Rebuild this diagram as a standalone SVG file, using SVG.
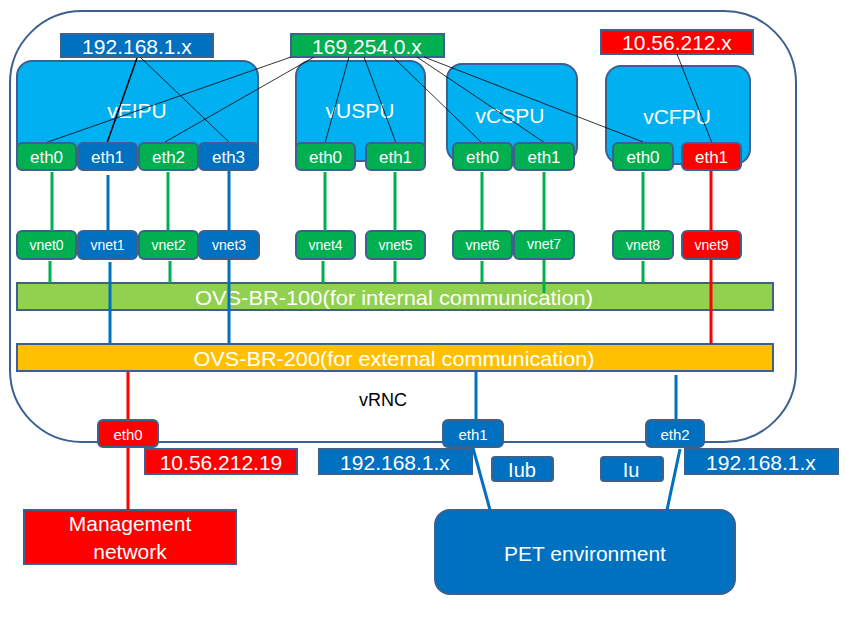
<svg xmlns="http://www.w3.org/2000/svg" width="846" height="621" viewBox="0 0 846 621">
<style>
text{font-family:"Liberation Sans",Arial,sans-serif;fill:#fff;text-anchor:middle;dominant-baseline:central}
.bx{stroke:#3C6090;stroke-width:2}
.vm{fill:#00B0F0}
.g{fill:#00B050}
.b{fill:#0070C0}
.r{fill:#FF0000}
.ip{font-size:21px}
.vmt{font-size:21px}
.eth{font-size:17px}
.vn{font-size:14px}
.be{font-size:15px}
.lg{stroke:#00B050;stroke-width:3}
.lb{stroke:#0070C0;stroke-width:3}
.lr{stroke:#FF0000;stroke-width:3}
.th{stroke:#000;stroke-width:0.8}
</style>
<rect width="846" height="621" fill="#fff"/>
<g id="vRNC">
<rect x="10" y="11" width="786" height="431" rx="72" ry="72" fill="none" stroke="#3C6090" stroke-width="2"/>
<text x="383" y="400" style="fill:#000;font-size:18px">vRNC</text>
</g>
<g id="vEIPU"><rect class="bx vm" x="17" y="61" width="241" height="101" rx="15"/><text class="vmt" x="137" y="110">vEIPU</text></g>
<g id="vUSPU"><rect class="bx vm" x="296" y="61" width="129" height="100" rx="15"/><text class="vmt" x="360" y="110">vUSPU</text></g>
<g id="vCSPU"><rect class="bx vm" x="447" y="64" width="130" height="98" rx="15"/><text class="vmt" x="510" y="115">vCSPU</text></g>
<g id="vCFPU"><rect class="bx vm" x="606" y="66" width="144" height="98" rx="15"/><text class="vmt" x="677" y="116">vCFPU</text></g>
<g id="ip-192-top"><rect class="bx b" x="61" y="34" width="152" height="23"/><text class="ip" x="137" y="46">192.168.1.x</text></g>
<g id="ip-169"><rect class="bx g" x="291" y="34" width="153" height="23"/><text class="ip" x="367" y="46">169.254.0.x</text></g>
<g id="ip-10-top"><rect class="bx r" x="601" y="30" width="152" height="24"/><text class="ip" x="677" y="42">10.56.212.x</text></g>
<g id="connectors-thin">
<line class="th" x1="137" y1="58" x2="107" y2="143" style="stroke-width:1.5"/>
<line class="th" x1="140" y1="57" x2="230" y2="143"/>
<line class="th" x1="291" y1="57" x2="45" y2="143"/>
<line class="th" x1="314" y1="57" x2="165" y2="142"/>
<line class="th" x1="349" y1="57" x2="325" y2="143"/>
<line class="th" x1="364" y1="57" x2="396" y2="143"/>
<line class="th" x1="393" y1="57" x2="482" y2="143"/>
<line class="th" x1="417" y1="57" x2="545" y2="143"/>
<line class="th" x1="424" y1="57" x2="643" y2="142"/>
<line class="th" x1="677" y1="54" x2="712" y2="143"/>
</g>
<g id="eth-vEIPU">
<rect class="bx g" x="17" y="143" width="59" height="27" rx="5"/><text class="eth" x="46.5" y="157">eth0</text>
<rect class="bx b" x="78" y="143" width="59" height="27" rx="5"/><text class="eth" x="107.5" y="157">eth1</text>
<rect class="bx g" x="139" y="143" width="59" height="27" rx="5"/><text class="eth" x="168.5" y="157">eth2</text>
<rect class="bx b" x="199" y="143" width="59" height="27" rx="5"/><text class="eth" x="228.5" y="157">eth3</text>
</g>
<g id="eth-vUSPU">
<rect class="bx g" x="296" y="143" width="59" height="27" rx="5"/><text class="eth" x="325.5" y="157">eth0</text>
<rect class="bx g" x="366" y="143" width="59" height="27" rx="5"/><text class="eth" x="395.5" y="157">eth1</text>
</g>
<g id="eth-vCSPU">
<rect class="bx g" x="453" y="143" width="59" height="27" rx="5"/><text class="eth" x="482.5" y="157">eth0</text>
<rect class="bx g" x="514" y="143" width="60" height="27" rx="5"/><text class="eth" x="544" y="157">eth1</text>
</g>
<g id="eth-vCFPU">
<rect class="bx g" x="613" y="143" width="60" height="27" rx="5"/><text class="eth" x="643" y="157">eth0</text>
<rect class="bx r" x="682" y="143" width="59" height="27" rx="5"/><text class="eth" x="711.5" y="157">eth1</text>
</g>
<g id="vnets">
<rect class="bx g" x="17" y="231" width="59" height="28" rx="5"/><text class="vn" x="46.5" y="245">vnet0</text>
<rect class="bx b" x="78" y="231" width="59" height="28" rx="5"/><text class="vn" x="107.5" y="245">vnet1</text>
<rect class="bx g" x="139" y="231" width="59" height="28" rx="5"/><text class="vn" x="168.5" y="245">vnet2</text>
<rect class="bx b" x="199" y="231" width="60" height="28" rx="5"/><text class="vn" x="229" y="245">vnet3</text>
<rect class="bx g" x="296" y="231" width="59" height="28" rx="5"/><text class="vn" x="325.5" y="245">vnet4</text>
<rect class="bx g" x="366" y="231" width="59" height="28" rx="5"/><text class="vn" x="395.5" y="245">vnet5</text>
<rect class="bx g" x="453" y="231" width="59" height="28" rx="5"/><text class="vn" x="482.5" y="245">vnet6</text>
<rect class="bx g" x="514" y="231" width="60" height="28" rx="5"/><text class="vn" x="544" y="244">vnet7</text>
<rect class="bx g" x="613" y="231" width="60" height="28" rx="5"/><text class="vn" x="643" y="245">vnet8</text>
<rect class="bx r" x="682" y="231" width="59" height="28" rx="5"/><text class="vn" x="711.5" y="245">vnet9</text>
</g>
<g id="OVS-BR-100"><rect class="bx" x="17" y="283" width="756" height="27" style="fill:#92D050"/><text x="394" y="297" style="font-size:21px" textLength="398" lengthAdjust="spacingAndGlyphs">OVS-BR-100(for internal communication)</text></g>
<g id="OVS-BR-200"><rect class="bx" x="17" y="344" width="756" height="27" style="fill:#FFC000"/><text x="394" y="358" style="font-size:21px" textLength="401" lengthAdjust="spacingAndGlyphs">OVS-BR-200(for external communication)</text></g>
<g id="Management-network"><rect class="bx r" x="24" y="510" width="212" height="54"/><text x="130" y="523" style="font-size:21px">Management</text><text x="130" y="551" style="font-size:21px">network</text></g>
<g id="PET-environment"><rect class="bx b" x="435" y="510" width="300" height="84" rx="15"/><text x="585" y="553" style="font-size:21px">PET environment</text></g>
<g id="ip-10-19"><rect class="bx r" x="145" y="449" width="152" height="25"/><text class="ip" x="221" y="462">10.56.212.19</text></g>
<g id="ip-192-left"><rect class="bx b" x="319" y="449" width="153" height="25"/><text class="ip" x="395" y="462">192.168.1.x</text></g>
<g id="ip-192-right"><rect class="bx b" x="685" y="449" width="153" height="25"/><text class="ip" x="761" y="462">192.168.1.x</text></g>
<g id="Iub"><rect class="bx b" x="492" y="457" width="61" height="24" rx="3"/><text x="522" y="470" style="font-size:20px">Iub</text></g>
<g id="Iu"><rect class="bx b" x="601" y="457" width="62" height="24" rx="3"/><text x="631" y="470" style="font-size:20px">Iu</text></g>
<g id="connectors">
<line class="lg" x1="52" y1="172" x2="52" y2="231"/>
<line class="lb" x1="108" y1="175" x2="108" y2="231"/>
<line class="lg" x1="168" y1="172" x2="168" y2="231"/>
<line class="lb" x1="229" y1="171" x2="229" y2="231"/>
<line class="lg" x1="325" y1="172" x2="325" y2="231"/>
<line class="lg" x1="395" y1="172" x2="395" y2="231"/>
<line class="lg" x1="482" y1="172" x2="482" y2="231"/>
<line class="lg" x1="544" y1="172" x2="544" y2="231"/>
<line class="lg" x1="643" y1="172" x2="643" y2="231"/>
<line class="lr" x1="711" y1="171" x2="711" y2="231"/>
<line class="lr" x1="711" y1="259" x2="711" y2="344"/>
<line class="lg" x1="50" y1="261" x2="50" y2="283"/>
<line class="lg" x1="170" y1="261" x2="170" y2="283"/>
<line class="lg" x1="323" y1="261" x2="323" y2="283"/>
<line class="lg" x1="395" y1="261" x2="395" y2="283"/>
<line class="lg" x1="482" y1="261" x2="482" y2="283"/>
<line class="lg" x1="544" y1="260" x2="544" y2="293"/>
<line class="lg" x1="643" y1="261" x2="643" y2="283"/>
<line class="lb" x1="110" y1="262" x2="110" y2="344"/>
<line class="lb" x1="229" y1="259" x2="229" y2="344"/>
<line class="lr" x1="128" y1="372" x2="128" y2="420"/>
<line class="lr" x1="128" y1="447" x2="128" y2="510"/>
<line class="lb" x1="476" y1="372" x2="476" y2="420"/>
<line class="lb" x1="676" y1="375" x2="676" y2="420"/>
<line class="lb" x1="473" y1="448" x2="490" y2="510"/>
<line class="lb" x1="680" y1="449" x2="667" y2="510"/>
</g>
<g id="eth0-ext"><rect class="bx r" x="98" y="420" width="60" height="27" rx="5"/><text class="be" x="128" y="434">eth0</text></g>
<g id="eth1-ext"><rect class="bx b" x="443" y="420" width="60" height="27" rx="5"/><text class="be" x="473" y="434">eth1</text></g>
<g id="eth2-ext"><rect class="bx b" x="646" y="420" width="58" height="27" rx="5"/><text class="be" x="675" y="434">eth2</text></g>
</svg>
